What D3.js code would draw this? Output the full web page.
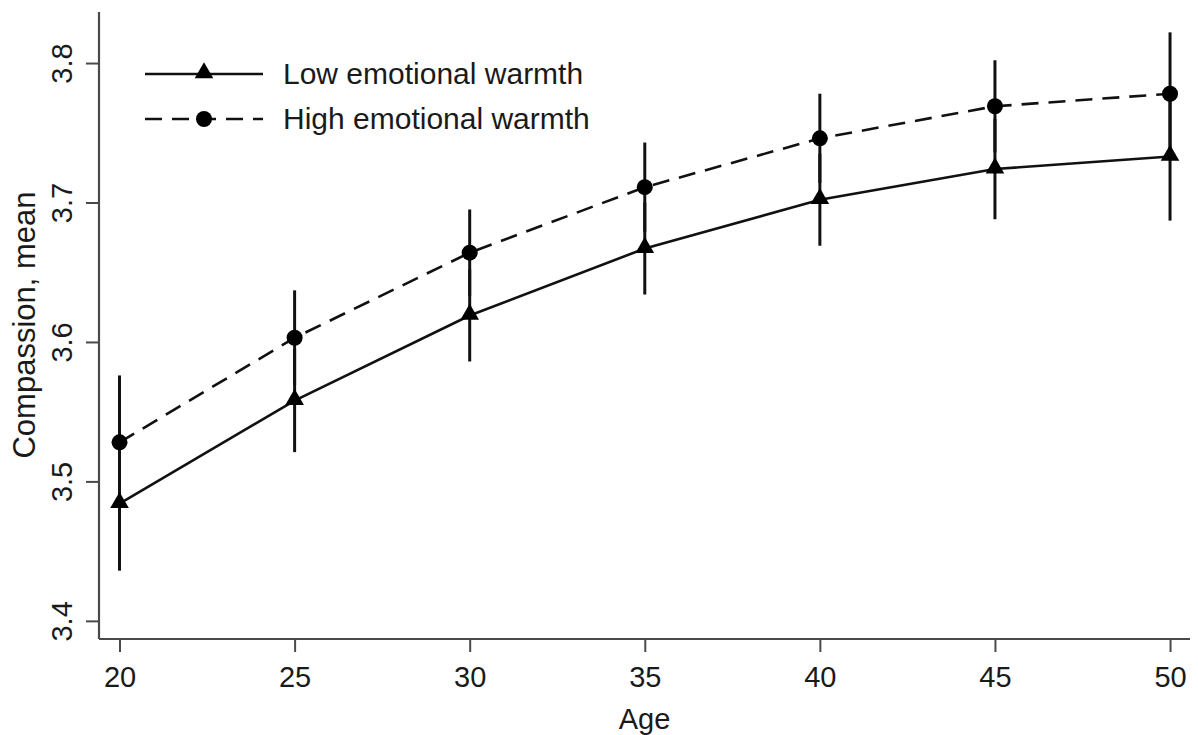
<!DOCTYPE html>
<html>
<head>
<meta charset="utf-8">
<script src="https://cdn.jsdelivr.net/npm/d3@7"></script>
<style>
  body { margin: 0; background: #fff; }
  text { font-family: "Liberation Sans", Arial, sans-serif; fill: #1a1a1a; }
</style>
</head>
<body>
<div id="chart"></div>
<script>
// chart data
var ages = [20, 25, 30, 35, 40, 45, 50];
var lowMean  = [3.484, 3.558, 3.619, 3.667, 3.702, 3.724, 3.733];
var lowLower = [3.436, 3.521, 3.586, 3.634, 3.669, 3.688, 3.687];
var highMean  = [3.528, 3.603, 3.664, 3.711, 3.746, 3.769, 3.778];
var highUpper = [3.576, 3.637, 3.695, 3.743, 3.778, 3.802, 3.822];
var yTicks = [3.4, 3.5, 3.6, 3.7, 3.8];
var seriesNames = ["Low emotional warmth", "High emotional warmth"];

var width = 1198, height = 735;

var svg = d3.select("#chart")
    .append("svg")
    .attr("width", width)
    .attr("height", height);

// scales -- axis frame runs x 99..1190, y 12..639
var x = d3.scaleLinear().domain([19.414, 50.57]).range([99, 1190]);
var y = d3.scaleLinear().domain([3.387, 3.8366]).range([639, 12]);

var axisColor = "#4a4a4a";

// x axis
var xAxis = svg.append("g")
    .attr("transform", "translate(0,639)")
    .call(d3.axisBottom(x).tickValues(ages).tickSize(13).tickPadding(14).tickFormat(d3.format("d")));
xAxis.select(".domain").attr("d", "M99,0H1190").attr("stroke", axisColor).attr("stroke-width", 2.2);
xAxis.selectAll(".tick line").attr("stroke", axisColor).attr("stroke-width", 2);
xAxis.selectAll(".tick text").attr("font-size", 29).style("fill", "#1a1a1a");

// y axis, labels rotated
var yAxis = svg.append("g")
    .attr("transform", "translate(99,0)")
    .call(d3.axisLeft(y).tickValues(yTicks).tickSize(13).tickFormat(d3.format(".1f")));
yAxis.select(".domain").attr("d", "M0,12V639").attr("stroke", axisColor).attr("stroke-width", 2.2);
yAxis.selectAll(".tick line").attr("stroke", axisColor).attr("stroke-width", 2);
yAxis.selectAll(".tick text")
    .attr("font-size", 29)
    .attr("x", null).attr("dy", null)
    .attr("text-anchor", "middle")
    .attr("transform", "translate(-27,0) rotate(-90)")
    .style("fill", "#1a1a1a");

// axis titles
svg.append("text")
    .attr("x", 644.5).attr("y", 729)
    .attr("text-anchor", "middle")
    .attr("font-size", 29)
    .text("Age");

svg.append("text")
    .attr("transform", "translate(35,325) rotate(-90)")
    .attr("text-anchor", "middle")
    .attr("font-size", 31)
    .text("Compassion, mean");

// build rows
var lowData = ages.map(function(a, i) {
    return { age: a, mean: lowMean[i], lo: lowLower[i], hi: 2 * lowMean[i] - lowLower[i] };
});
var highData = ages.map(function(a, i) {
    return { age: a, mean: highMean[i], lo: 2 * highMean[i] - highUpper[i], hi: highUpper[i] };
});

var line = d3.line()
    .x(function(d) { return x(d.age); })
    .y(function(d) { return y(d.mean); });

// error bars
[lowData, highData].forEach(function(data) {
    svg.append("g").selectAll("line")
        .data(data)
        .enter()
            .append("line")
            .attr("x1", function(d) { return x(d.age); })
            .attr("x2", function(d) { return x(d.age); })
            .attr("y1", function(d) { return y(d.lo); })
            .attr("y2", function(d) { return y(d.hi); })
            .attr("stroke", "#111")
            .attr("stroke-width", 3);
});

// lines
svg.append("path")
    .datum(lowData)
    .attr("d", line)
    .attr("fill", "none")
    .attr("stroke", "#111")
    .attr("stroke-width", 2.6);

svg.append("path")
    .datum(highData)
    .attr("d", line)
    .attr("fill", "none")
    .attr("stroke", "#111")
    .attr("stroke-width", 2.6)
    .attr("stroke-dasharray", "17,10");

// markers
var tri = d3.symbol().type(d3.symbolTriangle).size(150);

svg.append("g").selectAll("path")
    .data(lowData)
    .enter()
        .append("path")
        .attr("d", tri)
        .attr("transform", function(d) { return "translate(" + x(d.age) + "," + (y(d.mean) - 1) + ")"; })
        .attr("fill", "#000");

svg.append("g").selectAll("circle")
    .data(highData)
    .enter()
        .append("circle")
        .attr("cx", function(d) { return x(d.age); })
        .attr("cy", function(d) { return y(d.mean); })
        .attr("r", 8)
        .attr("fill", "#000");

// legend
var legend = svg.append("g");
var legY = [74, 119];

legend.append("line")
    .attr("x1", 145).attr("x2", 263).attr("y1", legY[0]).attr("y2", legY[0])
    .attr("stroke", "#111").attr("stroke-width", 2.6);
legend.append("path")
    .attr("d", tri)
    .attr("transform", "translate(204," + (legY[0] - 1) + ")")
    .attr("fill", "#000");

legend.append("line")
    .attr("x1", 145).attr("x2", 263).attr("y1", legY[1]).attr("y2", legY[1])
    .attr("stroke", "#111").attr("stroke-width", 2.6)
    .attr("stroke-dasharray", "17,10");
legend.append("circle")
    .attr("cx", 204).attr("cy", legY[1]).attr("r", 8)
    .attr("fill", "#000");

legend.selectAll("text")
    .data(seriesNames)
    .enter()
        .append("text")
        .attr("x", 283)
        .attr("y", function(d, i) { return legY[i] + 10; })
        .attr("font-size", 30)
        .text(function(d) { return d; });
</script>
</body>
</html>
